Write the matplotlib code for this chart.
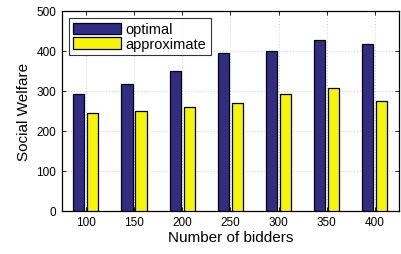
import numpy as np
import matplotlib
matplotlib.use("Agg")
import matplotlib.pyplot as plt

categories = ["100", "150", "200", "250", "300", "350", "400"]
optimal = [292, 317, 349, 393, 398, 426, 417]
approximate = [245, 250, 259, 270, 291, 307, 274]

plt.rcParams['font.family'] = ['Liberation Sans', 'DejaVu Sans']

fig = plt.figure(figsize=(4.01, 2.55), dpi=100)
ax = fig.add_axes([61.7/401, 1 - 211.7/255, (399 - 61.7)/401, (211.7 - 11.7)/255])

x = np.arange(1, len(categories) + 1)
w = 0.23
off = 0.145
ax.bar(x - off, optimal, w, color='#332C85', edgecolor='black', linewidth=0.9, label='optimal', zorder=3)
ax.bar(x + off, approximate, w, color='#F5F50A', edgecolor='black', linewidth=0.9, label='approximate', zorder=3)

ax.set_xlim(0.5, 7.5)
ax.set_ylim(0, 500)
ax.set_xticks(x)
ax.set_xticklabels(categories)
ax.set_yticks([0, 100, 200, 300, 400, 500])
ax.tick_params(direction='in', top=True, right=True, labelsize=8.5, length=3, width=0.6, pad=4)
ax.grid(True, linestyle=(0, (1, 2.5)), color='#c0c0c0', linewidth=0.6, zorder=0)
for s in ax.spines.values():
    s.set_linewidth(0.9)

ax.set_xlabel('Number of bidders', fontsize=11, labelpad=1)
ax.set_ylabel('Social Welfare', fontsize=11, labelpad=4)

leg = ax.legend(loc='upper left', fontsize=10.5, frameon=True, fancybox=False,
                edgecolor='black', handlelength=3.3, handleheight=0.8,
                borderpad=0.3, labelspacing=0.05, handletextpad=0.3,
                borderaxespad=0.5)
leg.get_frame().set_linewidth(0.8)

fig.savefig('out.png', dpi=100)
